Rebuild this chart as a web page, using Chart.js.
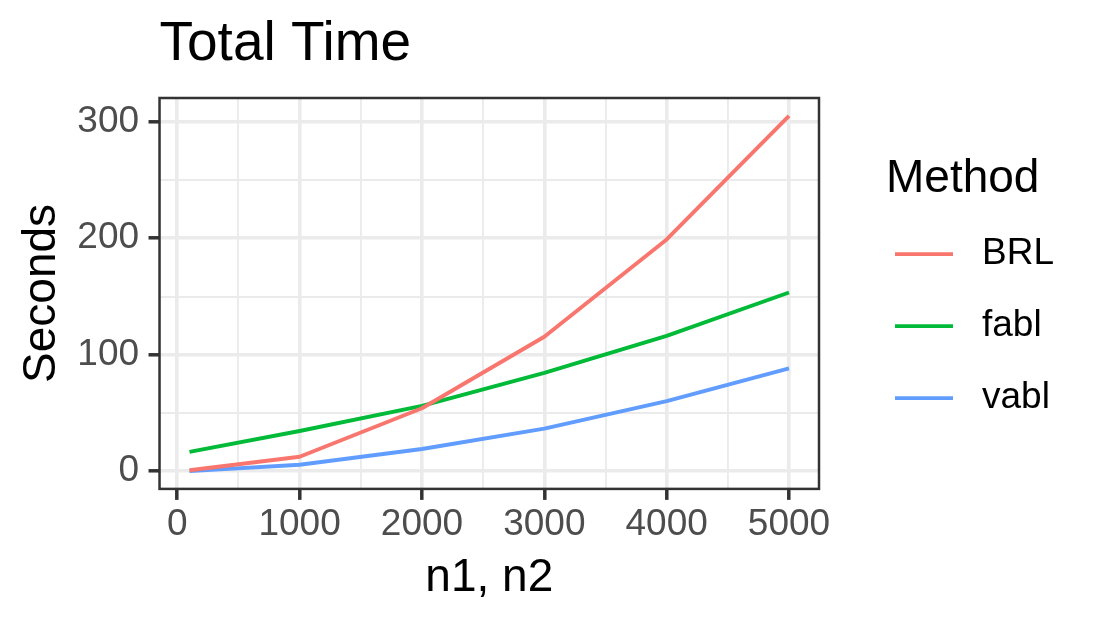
<!DOCTYPE html>
<html>
<head>
<meta charset="utf-8">
<title>Total Time</title>
<script src="https://cdn.jsdelivr.net/npm/chart.js@4.4.1/dist/chart.umd.min.js"></script>
<style>
    html, body { margin: 0; padding: 0; background: #ffffff; }
    #wrap { width: 1102px; height: 622px; position: relative; }
</style>
</head>
<body>
<div id="wrap"><canvas id="total-time"></canvas></div>
<script>
// values
const sampleSizes = [100, 1000, 2000, 3000, 4000, 5000];
const brlSeconds = [0.8, 12.3, 54, 115.4, 199, 305.2];
const fablSeconds = [16.5, 34.5, 56, 84.4, 116.2, 153.4];
const vablSeconds = [0, 5.5, 19, 36.5, 60.1, 88.2];

const methodNames = ['BRL', 'fabl', 'vabl'];
const methodColors = ['#F8766D', '#00BA38', '#619CFF'];

const xMajorTicks = [0, 1000, 2000, 3000, 4000, 5000];
const xMinorTicks = [500, 1500, 2500, 3500, 4500];
const yMajorTicks = [0, 100, 200, 300];
const yMinorTicks = [50, 150, 250];

const FONT = '"Liberation Sans", Arial, Helvetica, sans-serif';
Chart.defaults.font.family = FONT;

// ggplot style 5% expansion of the data range
const allSeconds = brlSeconds.concat(fablSeconds, vablSeconds);
const yLow = Math.min(...allSeconds);
const yHigh = Math.max(...allSeconds);
const xLow = Math.min(...sampleSizes);
const xHigh = Math.max(...sampleSizes);
const yPad = (yHigh - yLow) * 0.05;
const xPad = (xHigh - xLow) * 0.05;

const seriesValues = [brlSeconds, fablSeconds, vablSeconds];
const datasets = methodNames.map((name, i) => ({
    label: name,
    data: sampleSizes.map((n, j) => ({x: n, y: seriesValues[i][j]})),
    borderColor: methodColors[i],
    backgroundColor: methodColors[i],
    borderWidth: 3.9,
    borderJoinStyle: 'round',
    pointRadius: 0,
    tension: 0,
    fill: false
}));

function gridWidth(majors) {
    return (c) => majors.includes(c.tick.value) ? 3.6 : 1.9;
}
function tickMarkColor(majors) {
    return (c) => majors.includes(c.tick.value) ? '#333333' : 'rgba(0,0,0,0)';
}

const panelBorder = {
    id: 'panelBorder',
    afterDatasetsDraw(chart) {
        const {ctx, chartArea} = chart;
        ctx.save();
        ctx.strokeStyle = '#333333';
        ctx.lineWidth = 2.5;
        ctx.strokeRect(chartArea.left, chartArea.top, chartArea.right - chartArea.left, chartArea.bottom - chartArea.top);
        ctx.restore();
    }
};

// legend drawn ggplot-like: title, line keys, labels
const methodLegend = {
    id: 'methodLegend',
    afterDraw(chart) {
        const {ctx, chartArea} = chart;
        const left = chartArea.right + 70;
        const mid = (chartArea.top + chartArea.bottom) / 2;
        ctx.save();
        ctx.fillStyle = '#000000';
        ctx.textAlign = 'left';
        ctx.textBaseline = 'alphabetic';
        ctx.font = '46px ' + FONT;
        ctx.fillText('Method', left - 3, mid - 101.5);

        chart.data.datasets.forEach((ds, i) => {
            const y = mid - 39.3 + i * 72;
            ctx.strokeStyle = ds.borderColor;
            ctx.lineWidth = ds.borderWidth;
            ctx.beginPath();
            ctx.moveTo(left + 6, y);
            ctx.lineTo(left + 64, y);
            ctx.stroke();

            ctx.fillStyle = '#000000';
            ctx.font = '37px ' + FONT;
            ctx.textBaseline = 'middle';
            ctx.fillText(ds.label, left + 93, y);
        });
        ctx.restore();
    }
};

const totalTimeChart = new Chart(
    document.getElementById('total-time'),
    {
        type: 'line',
        data: {datasets: datasets},
        options: {
            responsive: true,
            maintainAspectRatio: false,
            animation: false,
            layout: {
                padding: {top: 0, left: 10.8, right: 283, bottom: 12.3}
            },
            scales: {
                x: {
                    type: 'linear',
                    min: xLow - xPad,
                    max: xHigh + xPad,
                    afterBuildTicks: (scale) => {
                        scale.ticks = xMajorTicks.concat(xMinorTicks).sort((a, b) => a - b).map(v => ({value: v}));
                    },
                    ticks: {
                        autoSkip: false,
                        maxRotation: 0,
                        minRotation: 0,
                        padding: 3.1,
                        color: '#4D4D4D',
                        font: {size: 37},
                        callback: (value) => xMajorTicks.includes(value) ? String(value) : ''
                    },
                    grid: {
                        color: '#EBEBEB',
                        lineWidth: gridWidth(xMajorTicks),
                        tickColor: tickMarkColor(xMajorTicks),
                        tickWidth: 3.5,
                        tickLength: 11
                    },
                    border: {display: false},
                    title: {
                        display: true,
                        text: 'n1, n2',
                        color: '#000000',
                        font: {size: 46},
                        padding: {top: 0, bottom: 4}
                    }
                },
                y: {
                    type: 'linear',
                    min: yLow - yPad,
                    max: yHigh + yPad,
                    afterBuildTicks: (scale) => {
                        scale.ticks = yMajorTicks.concat(yMinorTicks).sort((a, b) => a - b).map(v => ({value: v}));
                    },
                    ticks: {
                        autoSkip: false,
                        padding: 9.5,
                        color: '#4D4D4D',
                        font: {size: 37},
                        callback: (value) => yMajorTicks.includes(value) ? String(value) : ''
                    },
                    grid: {
                        color: '#EBEBEB',
                        lineWidth: gridWidth(yMajorTicks),
                        tickColor: tickMarkColor(yMajorTicks),
                        tickWidth: 3.5,
                        tickLength: 11
                    },
                    border: {display: false},
                    title: {
                        display: true,
                        text: 'Seconds',
                        color: '#000000',
                        font: {size: 46},
                        padding: {top: 4, bottom: -2.2}
                    }
                }
            },
            plugins: {
                legend: {display: false},
                tooltip: {enabled: false},
                title: {
                    display: true,
                    text: 'Total Time',
                    align: 'start',
                    fullSize: false,
                    color: '#000000',
                    font: {size: 55, weight: 'normal'},
                    padding: {top: 12.2, bottom: 19.8}
                }
            }
        },
        plugins: [panelBorder, methodLegend]
    }
);
</script>
</body>
</html>
